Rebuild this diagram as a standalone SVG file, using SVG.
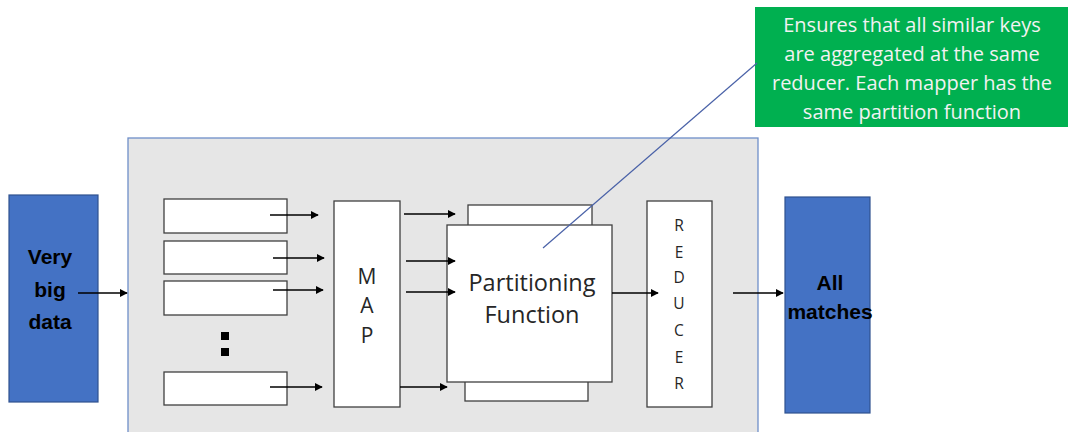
<svg xmlns="http://www.w3.org/2000/svg" width="1069" height="432" viewBox="0 0 1069 432">
  <style>
    .blue { fill: #4472c4; stroke: #2f528f; stroke-width: 1.2; }
    .box { fill: #ffffff; stroke: #404040; stroke-width: 1.3; }
    .bold { font-family: "Liberation Sans", Arial, sans-serif; font-weight: bold; font-size: 21px; fill: #000; text-anchor: middle; }
    .lbl { font-family: "Open Sans", "Liberation Sans", sans-serif; fill: #262626; text-anchor: middle; }
    .note { font-family: "Open Sans", "Liberation Sans", sans-serif; font-size: 20px; fill: #f2f2f2; text-anchor: middle; }
    .arr { stroke: #000; stroke-width: 1.3; fill: none; marker-end: url(#head); }
  </style>
  <defs>
    <marker id="head" viewBox="0 0 10 10" refX="9" refY="5" markerWidth="8" markerHeight="8" markerUnits="userSpaceOnUse" orient="auto">
      <path d="M0,0 L10,5 L0,10 z" fill="#000"/>
    </marker>
  </defs>
  <rect width="1069" height="432" fill="#ffffff"/>

  <!-- processing frame -->
  <g id="frame">
    <rect x="128" y="138" width="630" height="300" fill="#e6e6e6" stroke="#6f8fc9" stroke-width="1.3"/>
  </g>

  <g id="input">
    <rect class="blue" x="9" y="195" width="89" height="207"/>
    <text class="bold" x="50" y="264">Very</text>
    <text class="bold" x="50" y="297">big</text>
    <text class="bold" x="50" y="329">data</text>
  </g>

  <g id="splits">
    <rect class="box" x="164" y="199" width="123" height="34"/>
    <rect class="box" x="164" y="241" width="123" height="33"/>
    <rect class="box" x="164" y="281" width="123" height="34"/>
    <rect x="221" y="332" width="8" height="8" fill="#000"/>
    <rect x="221" y="348" width="8" height="8" fill="#000"/>
    <rect class="box" x="164" y="372" width="123" height="33"/>
  </g>

  <g id="map">
    <rect class="box" x="334" y="201" width="66" height="206"/>
    <text class="lbl" font-size="21" x="367" y="284">M</text>
    <text class="lbl" font-size="21" x="367" y="313">A</text>
    <text class="lbl" font-size="21" x="367" y="343">P</text>
  </g>

  <g id="partitioning">
    <rect class="box" x="468" y="205" width="124" height="60"/>
    <rect class="box" x="465" y="340" width="123" height="61"/>
    <rect class="box" x="447" y="225" width="165" height="157"/>
    <text class="lbl" font-size="23.5" x="532" y="291">Partitioning</text>
    <text class="lbl" font-size="23.5" x="532" y="323">Function</text>
  </g>

  <g id="reducer">
    <rect class="box" x="647" y="201" width="65" height="206"/>
    <text class="lbl" font-size="15.5" x="679" y="231">R</text>
    <text class="lbl" font-size="15.5" x="679" y="258">E</text>
    <text class="lbl" font-size="15.5" x="679" y="283">D</text>
    <text class="lbl" font-size="15.5" x="679" y="309">U</text>
    <text class="lbl" font-size="15.5" x="679" y="336">C</text>
    <text class="lbl" font-size="15.5" x="679" y="363">E</text>
    <text class="lbl" font-size="15.5" x="679" y="389">R</text>
  </g>

  <g id="output">
    <rect class="blue" x="785" y="197" width="85" height="216"/>
    <text class="bold" x="830" y="290" font-size="20">All</text>
    <text class="bold" x="830" y="319" font-size="20">matches</text>
  </g>

  <g id="note">
    <rect x="755" y="7" width="313" height="120" fill="#00b050"/>
    <text class="note" x="912" y="32">Ensures that all similar keys</text>
    <text class="note" x="912" y="61">are aggregated at the same</text>
    <text class="note" x="912" y="90">reducer. Each mapper has the</text>
    <text class="note" x="912" y="119">same partition function</text>
  </g>

  <g id="connectors">
    <line class="arr" x1="78" y1="293" x2="127" y2="293"/>
    <line class="arr" x1="270" y1="215" x2="318" y2="215"/>
    <line class="arr" x1="273" y1="258" x2="324" y2="258"/>
    <line class="arr" x1="273" y1="290" x2="323" y2="290"/>
    <line class="arr" x1="270" y1="387" x2="322" y2="387"/>
    <line class="arr" x1="404" y1="214" x2="455" y2="214"/>
    <line class="arr" x1="406" y1="261" x2="455" y2="261"/>
    <line class="arr" x1="406" y1="292" x2="455" y2="292"/>
    <line class="arr" x1="400" y1="387" x2="447" y2="387"/>
    <line class="arr" x1="612" y1="293" x2="658" y2="293"/>
    <line class="arr" x1="733" y1="293" x2="783" y2="293"/>
    <line x1="543" y1="248" x2="757" y2="63" stroke="#4a62a8" stroke-width="1.2"/>
  </g>
</svg>
